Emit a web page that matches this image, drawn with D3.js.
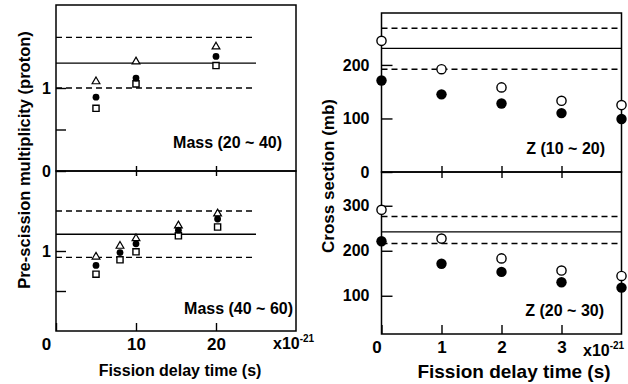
<!DOCTYPE html>
<html>
<head>
<meta charset="utf-8">
<script src="https://cdn.jsdelivr.net/npm/d3@7"></script>
<style>
  body { margin: 0; background: #fff; }
  text { font-family: "Liberation Sans", Arial, Helvetica, sans-serif; font-weight: bold; fill: #000; }
</style>
</head>
<body>
<div id="chart"></div>
<script>
// ---- data ----
// left: pre-scission proton multiplicity vs fission delay time (x1e-21 s)
const massLowTimes = [5, 10, 20];
const massLowTri = [1.09, 1.33, 1.51];
const massLowDot = [0.89, 1.12, 1.38];
const massLowSq = [0.755, 1.05, 1.27];
const massLowBand = [1.0, 1.30, 1.61];   // lower dashed, solid, upper dashed

const massHighTimes = [5, 8, 10, 15.3, 20.2];
const massHighTri = [0.94, 1.075, 1.17, 1.33, 1.48];
const massHighDot = [0.82, 0.98, 1.09, 1.26, 1.40];
const massHighSq = [0.71, 0.89, 0.99, 1.19, 1.30];
const massHighBand = [0.92, 1.21, 1.50];

const bandEnd = 25; // experimental band drawn up to this delay time

// right: cross section (mb) vs fission delay time
const zTimes = [0, 1, 2, 3, 4];
const zLowOpen = [245, 192, 158, 133, 125];
const zLowFilled = [171, 145, 128, 110, 99];
const zLowBand = [192, 231, 268.6];
const zHighOpen = [291, 227, 183, 156, 144];
const zHighFilled = [221, 171, 153, 130, 118];
const zHighBand = [216, 242, 276];

const leftXTicks = [0, 10, 20];
const rightXTicks = [0, 1, 2, 3];

const W = 628, H = 384;
const svg = d3.select('#chart').append('svg')
  .attr('width', W).attr('height', H);
svg.append('rect').attr('width', W).attr('height', H).attr('fill', '#fff');

// ---- scales ----
const xLeft = d3.scaleLinear().domain([0, 30]).range([56, 296]);
const yMassLow = d3.scaleLinear().domain([0, 2]).range([171, 5]);
const yMassHigh = d3.scaleLinear().domain([0, 2]).range([331, 171]);

const xRight = d3.scaleLinear().domain([0, 4]).range([381.5, 621.5]);
const yZLow = d3.scaleLinear().domain([0, 297]).range([172, 13]);
const yZHigh = d3.scaleLinear().domain([15, 375]).range([334, 172]);

const fmt = d3.format('d');

function frame(x, y) {
  svg.append('rect')
    .attr('x', x.range()[0]).attr('y', y.range()[1])
    .attr('width', x.range()[1] - x.range()[0])
    .attr('height', y.range()[0] - y.range()[1])
    .attr('fill', 'none').attr('stroke', '#000').attr('stroke-width', 1.5);
}

function band(x, y, vals, x0, x1) {
  vals.forEach((v, i) => {
    svg.append('line')
      .attr('x1', x(x0)).attr('x2', x(x1))
      .attr('y1', y(v)).attr('y2', y(v))
      .attr('stroke', '#000').attr('stroke-width', 1.4)
      .attr('stroke-dasharray', i === 1 ? null : '6,4');
  });
}

function styleAxis(g) {
  g.select('.domain').remove();
  g.selectAll('.tick line').attr('stroke', '#000').attr('stroke-width', 1.4);
  g.selectAll('.tick text').style('font-size', '16px');
}

function yAxis(x, y, vals, labels, len, pad) {
  svg.append('g')
    .attr('transform', `translate(${x.range()[0]},0)`)
    .call(d3.axisLeft(y).tickValues(vals).tickSize(-len).tickSizeOuter(0).tickPadding(pad)
      .tickFormat(d => labels.includes(d) ? fmt(d) : ''))
    .call(styleAxis);
}

// ---- left panels ----
frame(xLeft, yMassLow);
frame(xLeft, yMassHigh);
band(xLeft, yMassLow, massLowBand, 0, bandEnd);
band(xLeft, yMassHigh, massHighBand, 0, bandEnd);

yAxis(xLeft, yMassLow, [0, 0.5, 1], [0, 1], 10, 5);
yAxis(xLeft, yMassHigh, [0.5, 1], [1], 10, 5);

// cross ticks on the shared boundary
svg.append('g')
  .attr('transform', `translate(0,${yMassLow(0) + 5})`)
  .call(d3.axisBottom(xLeft).tickValues([10, 20]).tickSize(-10).tickSizeOuter(0).tickFormat(''))
  .call(styleAxis);

const xAxL = svg.append('g')
  .attr('transform', `translate(0,${yMassHigh.range()[0]})`)
  .call(d3.axisBottom(xLeft).tickValues(leftXTicks).tickSize(-8).tickSizeOuter(0).tickPadding(7).tickFormat(fmt))
  .call(styleAxis);
xAxL.selectAll('.tick text').filter(d => d === 0).attr('dx', -10);
xAxL.selectAll('.tick text').style('font-size', '17px');

function drawMass(times, tri, dot, sq, y) {
  const g = svg.append('g');
  g.selectAll('path.tri').data(times).join('path')
    .attr('class', 'tri')
    .attr('d', d3.symbol(d3.symbolTriangle, 26))
    .attr('transform', (d, i) => `translate(${xLeft(d)},${y(tri[i]) + 1})`)
    .attr('fill', '#fff').attr('stroke', '#000').attr('stroke-width', 1.2);
  g.selectAll('path.sq').data(times).join('path')
    .attr('class', 'sq')
    .attr('d', d3.symbol(d3.symbolSquare, 38))
    .attr('transform', (d, i) => `translate(${xLeft(d)},${y(sq[i])})`)
    .attr('fill', '#fff').attr('stroke', '#000').attr('stroke-width', 1.4);
  g.selectAll('circle').data(times).join('circle')
    .attr('cx', d => xLeft(d))
    .attr('cy', (d, i) => y(dot[i]))
    .attr('r', 3.4).attr('fill', '#000');
}
drawMass(massLowTimes, massLowTri, massLowDot, massLowSq, yMassLow);
drawMass(massHighTimes, massHighTri, massHighDot, massHighSq, yMassHigh);

svg.append('text').attr('x', 282).attr('y', 148).attr('text-anchor', 'end')
  .style('font-size', '16px').text('Mass (20 ~ 40)');
svg.append('text').attr('x', 293).attr('y', 314).attr('text-anchor', 'end')
  .style('font-size', '16px').text('Mass (40 ~ 60)');

// ---- right panels ----
frame(xRight, yZLow);
frame(xRight, yZHigh);
band(xRight, yZLow, zLowBand, 0, 4);
band(xRight, yZHigh, zHighBand, 0, 4);

yAxis(xRight, yZLow, [0, 100, 200], [0, 100, 200], 11, 12);
yAxis(xRight, yZHigh, [100, 200, 300], [100, 200, 300], 11, 12);

svg.append('g')
  .attr('transform', `translate(0,${yZLow(0) + 6})`)
  .call(d3.axisBottom(xRight).tickValues([1, 2, 3]).tickSize(-12).tickSizeOuter(0).tickFormat(''))
  .call(styleAxis);

const xAxR = svg.append('g')
  .attr('transform', `translate(0,${yZHigh.range()[0]})`)
  .call(d3.axisBottom(xRight).tickValues(rightXTicks).tickSize(-9).tickSizeOuter(0).tickPadding(7).tickFormat(fmt))
  .call(styleAxis);
xAxR.selectAll('.tick text').filter(d => d === 0).attr('dx', -5);
xAxR.selectAll('.tick text').style('font-size', '17px');

function drawZ(open, filled, y) {
  const g = svg.append('g');
  g.selectAll('circle.open').data(zTimes).join('circle')
    .attr('class', 'open')
    .attr('cx', d => xRight(d)).attr('cy', (d, i) => y(open[i]))
    .attr('r', 4.6).attr('fill', '#fff').attr('stroke', '#000').attr('stroke-width', 1.4);
  g.selectAll('circle.filled').data(zTimes).join('circle')
    .attr('class', 'filled')
    .attr('cx', d => xRight(d)).attr('cy', (d, i) => y(filled[i]))
    .attr('r', 5.2).attr('fill', '#000');
}
drawZ(zLowOpen, zLowFilled, yZLow);
drawZ(zHighOpen, zHighFilled, yZHigh);

svg.append('text').attr('x', 605).attr('y', 154).attr('text-anchor', 'end')
  .style('font-size', '16px').text('Z (10 ~ 20)');
svg.append('text').attr('x', 604).attr('y', 316).attr('text-anchor', 'end')
  .style('font-size', '16px').text('Z (20 ~ 30)');

// ---- titles and exponent notes ----
function expNote(x, y) {
  const t = svg.append('text').attr('x', x).attr('y', y).style('font-size', '16px');
  t.append('tspan').text('x10');
  t.append('tspan').attr('dy', -7).style('font-size', '10px').text('-21');
}
expNote(273, 349);
expNote(583, 356);

svg.append('text').attr('x', 180).attr('y', 376).attr('text-anchor', 'middle')
  .style('font-size', '16px').text('Fission delay time (s)');
svg.append('text').attr('x', 514).attr('y', 378).attr('text-anchor', 'middle')
  .style('font-size', '19px').text('Fission delay time (s)');

svg.append('text')
  .attr('transform', 'translate(30,160) rotate(-90)')
  .attr('text-anchor', 'middle')
  .style('font-size', '16.5px').text('Pre-scission multiplicity (proton)');
svg.append('text')
  .attr('transform', 'translate(334,176) rotate(-90)')
  .attr('text-anchor', 'middle')
  .style('font-size', '17px').text('Cross section (mb)');
</script>
</body>
</html>
